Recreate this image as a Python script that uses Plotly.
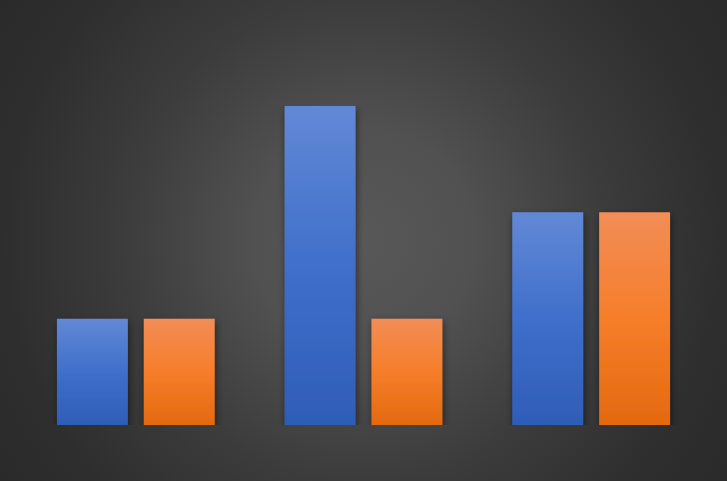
import plotly.graph_objects as go

categories = ["A", "B", "C"]
series_blue = [1, 3, 2]
series_orange = [1, 1, 2]

fig = go.Figure()
fig.add_trace(go.Bar(x=categories, y=series_blue, marker=dict(color="#4573cc", line=dict(width=0)), name="Series 1"))
fig.add_trace(go.Bar(x=categories, y=series_orange, marker=dict(color="#f47f2c", line=dict(width=0)), name="Series 2"))

fig.update_layout(
    width=727, height=481,
    margin=dict(l=22, r=21.5, t=106, b=56, pad=0),
    paper_bgcolor="rgba(0,0,0,0)", plot_bgcolor="rgba(0,0,0,0)",
    barmode="group", bargap=0.237, bargroupgap=0.184,
    showlegend=False,
    xaxis=dict(visible=False, range=[-0.5, 2.5]),
    yaxis=dict(visible=False, range=[0, 3]),
)

post = r"""
var gd = document.getElementById('{plot_id}');
document.documentElement.style.margin='0';
document.body.style.margin='0';
document.body.style.background='#2a2a2a';
gd.style.background='radial-gradient(circle at 363px 240px, #585858 0px, #515151 110px, #3c3c3c 240px, #2e2e2e 360px, #2a2a2a 440px)';
function deco(){
  var svg = gd.querySelector('svg.main-svg');
  if(!svg) return;
  var ns='http://www.w3.org/2000/svg';
  if(!svg.querySelector('#rsdefs')){
    var defs=document.createElementNS(ns,'defs'); defs.id='rsdefs';
    defs.innerHTML='<linearGradient id="g0" x1="0" y1="0" x2="0" y2="1">'+
      '<stop offset="0" stop-color="#6289d5"/><stop offset="0.5" stop-color="#3f6fcb"/><stop offset="1" stop-color="#2e5db7"/></linearGradient>'+
      '<linearGradient id="g1" x1="0" y1="0" x2="0" y2="1">'+
      '<stop offset="0" stop-color="#f28d57"/><stop offset="0.5" stop-color="#f67e2a"/><stop offset="1" stop-color="#e4690f"/></linearGradient>'+
      '<filter id="sh" x="-30%" y="-30%" width="160%" height="160%"><feDropShadow dx="1" dy="3" stdDeviation="3.5" flood-color="#000" flood-opacity="0.5"/></filter>';
    svg.insertBefore(defs, svg.firstChild);
  }
  gd.querySelectorAll('.trace.bars').forEach(function(t,i){
    t.querySelectorAll('path').forEach(function(p){
      p.style.fill='url(#g'+i+')';
      p.style.filter='url(#sh)';
    });
  });
}
deco();
gd.on('plotly_afterplot', deco);
"""

fig.write_html("out.html", post_script=post, config={"displayModeBar": False})
